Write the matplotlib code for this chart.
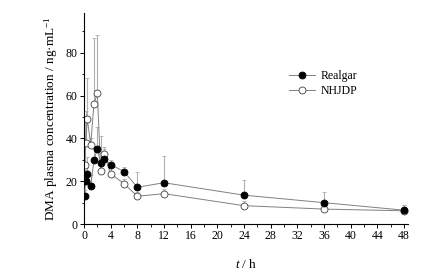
import matplotlib
matplotlib.use("Agg")
import matplotlib.pyplot as plt
from matplotlib.ticker import MultipleLocator

# tiempos de muestreo (h)
t = [0.083, 0.25, 0.5, 1, 1.5, 2, 2.5, 3, 4, 6, 8, 12, 24, 36, 48]

# Realgar
realgar = [13.1, 20.3, 23.4, 17.8, 29.9, 35.1, 28.4, 30.6, 27.8, 24.5, 17.2, 19.3, 13.5, 10.0, 6.5]
realgar_sd = [3, 5, 8, 5, 5, 10, 12.5, 4.5, 2, 2, 7.3, 12.5, 7, 4.8, 2.5]

# NHJDP
nhjdp = [27.8, 38.0, 49.0, 37.1, 56.0, 61.1, 24.9, 32.8, 23.5, 18.9, 13.0, 14.2, 8.6, 7.0, 6.2]
nhjdp_sd = [22, 15, 19, 3, 31, 27, 4, 3, 3, 2, 2, 2, 2, 1.5, 2.5]

plt.rcParams['font.family'] = ['Liberation Serif', 'DejaVu Serif']
plt.rcParams['mathtext.fontset'] = 'custom'
plt.rcParams['mathtext.rm'] = 'Liberation Serif'
plt.rcParams['mathtext.it'] = 'Liberation Serif:italic'

fig = plt.figure(figsize=(4.33, 2.77), dpi=100)
ax = fig.add_axes([0.194, 0.191, 0.748, 0.762])

# --- barras de error (solo hacia arriba) ---
ax.errorbar(t, nhjdp, yerr=[[0] * len(nhjdp), nhjdp_sd], fmt='none',
            ecolor='#b0b0b0', elinewidth=0.8, capsize=1.5, capthick=0.6, zorder=1)
ax.errorbar(t, realgar, yerr=[[0] * len(realgar), realgar_sd], fmt='none',
            ecolor='#b0b0b0', elinewidth=0.8, capsize=1.5, capthick=0.6, zorder=1)

# --- series ---
ax.plot(t, realgar, color='#808080', lw=0.7, marker='o', ms=5,
        mfc='black', mec='black', mew=0.6, label='Realgar', zorder=3)
ax.plot(t, nhjdp, color='#808080', lw=0.7, marker='o', ms=5,
        mfc='white', mec='#404040', mew=0.6, label='NHJDP', zorder=2)

ax.set_xlim(0, 48.6)
ax.set_ylim(0, 98.5)
ax.xaxis.set_major_locator(MultipleLocator(4))
ax.xaxis.set_minor_locator(MultipleLocator(2))
ax.yaxis.set_major_locator(MultipleLocator(20))
ax.yaxis.set_minor_locator(MultipleLocator(10))
ax.tick_params(which='major', direction='out', length=3, width=0.7, labelsize=8.5, pad=1.5)
ax.tick_params(which='minor', direction='out', length=1.8, width=0.6)

for s in ['top', 'right']:
    ax.spines[s].set_visible(False)
for s in ['left', 'bottom']:
    ax.spines[s].set_linewidth(0.8)

ax.set_xlabel(r'$t$ / h', fontsize=9.5, labelpad=11)
ax.set_ylabel('DMA plasma concentration / ng·mL$^{-1}$', fontsize=9.5, labelpad=4)

ax.legend(loc='upper left', bbox_to_anchor=(0.6, 0.78), frameon=False, fontsize=8.5,
          handlelength=2.2, handletextpad=0.5, labelspacing=0.25)

fig.savefig('out.png', dpi=100)
